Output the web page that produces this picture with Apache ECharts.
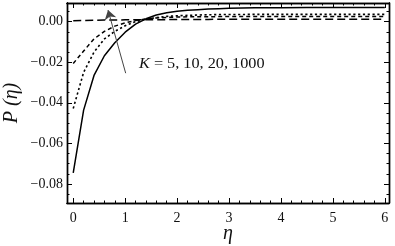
<!DOCTYPE html>
<html>
<head>
<meta charset="utf-8">
<script src="https://cdn.jsdelivr.net/npm/echarts@6/dist/echarts.min.js"></script>
<style>html,body{margin:0;padding:0;background:#fff}#c{width:395px;height:246px}</style>
</head>
<body>
<div id="c"></div>
<script>
const eta = [0,0.2,0.4,0.6,0.8,1.0,1.2,1.4,1.6,1.8,2.0,2.2,2.4,2.6,2.8,3.0,3.5,4.0,4.5,5.0,5.5,6.0];
const pK5    = [-0.0745,-0.0436,-0.0265,-0.0168,-0.0104,-0.0052,-0.0012,0.0014,0.0033,0.0044,0.0051,0.0056,0.0059,0.0062,0.0064,0.0066,0.0068,0.0069,0.0070,0.0070,0.0070,0.0070];
const pK10   = [-0.0428,-0.0250,-0.0150,-0.0085,-0.0048,-0.0020,0.0000,0.0012,0.0020,0.0026,0.0029,0.0031,0.0033,0.0034,0.0035,0.0035,0.0036,0.0036,0.0036,0.0036,0.0036,0.0036];
const pK20   = [-0.0206,-0.0145,-0.0085,-0.0048,-0.0022,-0.0006,0.0006,0.0013,0.0018,0.0021,0.0023,0.0024,0.0024,0.0024,0.0025,0.0025,0.0025,0.0025,0.0025,0.0025,0.0025,0.0025];
const pK1000 = [0.0005,0.0006,0.0007,0.0008,0.0008,0.0009,0.0009,0.0010,0.0010,0.0010,0.0011,0.0011,0.0011,0.0011,0.0012,0.0012,0.0012,0.0012,0.0012,0.0012,0.0012,0.0012];
const xMajor = [0,1,2,3,4,5,6];
const xMinor = [0.2,0.4,0.6,0.8,1.2,1.4,1.6,1.8,2.2,2.4,2.6,2.8,3.2,3.4,3.6,3.8,4.2,4.4,4.6,4.8,5.2,5.4,5.6,5.8];
const yMajor = [-0.08,-0.06,-0.04,-0.02,0];
const yMinor = [-0.085,-0.075,-0.07,-0.065,-0.055,-0.05,-0.045,-0.035,-0.03,-0.025,-0.015,-0.01,-0.005,0.005];
const arrowFrom = [1.01,-0.0254];
const arrowTo = [0.67,0.0057];

const X_MIN = -0.12, X_MAX = 6.08, Y_MIN = -0.0894, Y_MAX = 0.0092;
const FONT = 'Liberation Serif';
const lineC = '#000';

function xAxisDef(pos, vals, len, labels) {
  return {
    type: 'value', position: pos, min: X_MIN, max: X_MAX, offset: 0,
    axisLine: {show: true, onZero: false, lineStyle: {color: lineC, width: 1.4}},
    axisTick: {show: true, inside: true, length: len, customValues: vals, lineStyle: {color: lineC, width: 1}},
    axisLabel: labels ? {show: true, customValues: vals, margin: 8, fontFamily: FONT, fontSize: 14, color: '#111',
      formatter: v => String(Math.round(v))} : {show: false},
    splitLine: {show: false},
    name: labels ? 'η' : '', nameLocation: 'middle', nameGap: 21, nameMoveOverlap: false,
    nameTextStyle: {fontFamily: FONT, fontStyle: 'italic', fontSize: 20, color: '#111'}
  };
}
function yAxisDef(pos, vals, len, labels) {
  return {
    type: 'value', position: pos, min: Y_MIN, max: Y_MAX, offset: 0,
    axisLine: {show: true, onZero: false, lineStyle: {color: lineC, width: 1.4}},
    axisTick: {show: true, inside: true, length: len, customValues: vals, lineStyle: {color: lineC, width: 1}},
    axisLabel: labels ? {show: true, customValues: vals, margin: 4, fontFamily: FONT, fontSize: 14, color: '#111',
      formatter: v => (v < -1e-9 ? '\u2212' : '') + Math.abs(v).toFixed(2)} : {show: false},
    splitLine: {show: false},
    name: labels ? 'P (η)' : '', nameLocation: 'middle', nameGap: 45, nameMoveOverlap: false,
    nameTextStyle: {fontFamily: FONT, fontStyle: 'italic', fontSize: 20, color: '#111'}
  };
}

const chart = echarts.init(document.getElementById('c'), null, {renderer: 'canvas'});
const mk = (d) => eta.map((e, i) => [e, d[i]]);
chart.setOption({
  animation: false,
  backgroundColor: '#fff',
  grid: {left: 67, right: 6, top: 3, bottom: 43, containLabel: false, outerBoundsMode: 'none'},
  xAxis: [
    xAxisDef('bottom', xMajor, 5, true),
    xAxisDef('bottom', xMinor, 2.5, false),
    xAxisDef('top', xMajor, 5, false),
    xAxisDef('top', xMinor, 2.5, false)
  ],
  yAxis: [
    yAxisDef('left', yMajor, 5, true),
    yAxisDef('left', yMinor, 2.5, false),
    yAxisDef('right', yMajor, 5, false),
    yAxisDef('right', yMinor, 2.5, false)
  ],
  series: [
    {type: 'line', name: 'K=5', data: mk(pK5), symbol: 'none', lineStyle: {color: '#000', width: 1.5, type: 'solid'},
      markLine: {silent: true, symbol: ['none', 'arrow'], symbolSize: 9, label: {show: false},
        lineStyle: {color: '#444', width: 1, type: 'solid'},
        data: [[{coord: arrowFrom}, {coord: arrowTo}]]}},
    {type: 'line', name: 'K=10', data: mk(pK10), symbol: 'none', lineStyle: {color: '#000', width: 1.6, type: [2.2, 2.6]}},
    {type: 'line', name: 'K=20', data: mk(pK20), symbol: 'none', lineStyle: {color: '#000', width: 1.5, type: [4, 3]}},
    {type: 'line', name: 'K=1000', data: mk(pK1000), symbol: 'none', lineStyle: {color: '#000', width: 1.5, type: [8, 4]}}
  ],
  graphic: [{
    type: 'text', left: 139, top: 57, scaleX: 1.16,
    style: {
      text: '{k|K} = 5, 10, 20, 1000',
      font: '14px "Liberation Serif"', fill: '#111',
      rich: {k: {fontFamily: FONT, fontStyle: 'italic', fontSize: 14, fill: '#111'}}
    }
  }]
});
</script>
</body>
</html>
